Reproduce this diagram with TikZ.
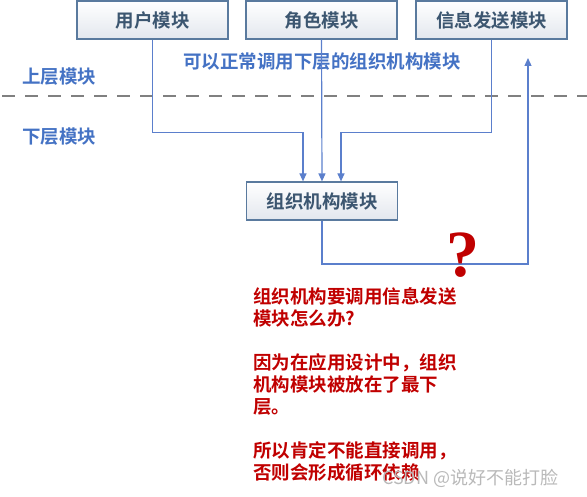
\documentclass[tikz,border=0pt]{standalone}
\usepackage{fontspec}
\setmainfont{Noto Sans CJK SC}[BoldFont={Noto Sans CJK SC Bold}]
\newfontfamily\qmark{Liberation Serif}
\usetikzlibrary{arrows.meta}
\definecolor{boxline}{HTML}{5A7A9E}
\definecolor{boxbot}{HTML}{E3E7EE}
\definecolor{boxtext}{HTML}{3C5670}
\definecolor{callblue}{HTML}{5B7FCC}
\definecolor{layerblue}{HTML}{4472C4}
\definecolor{qred}{HTML}{C00000}

\begin{document}
\begin{tikzpicture}[x=1pt, y=-1pt,
    module/.style={draw=boxline, line width=1.2pt, top color=white, bottom color=boxbot,
        minimum width=151pt, minimum height=38pt, inner sep=0pt,
        font=\fontsize{18.5}{20}\selectfont\bfseries, text=boxtext},
    call/.style={draw=callblue, line width=1.2pt, -{Triangle[length=8pt,width=7pt]}},
    layer/.style={text=layerblue, inner sep=0pt, font=\fontsize{18.5}{20}\selectfont\bfseries}]
    \useasboundingbox (0,0) rectangle (587,497);

    % Modules
    \node[module] (user) at (152.5,20) {用户模块};
    \node[module] (role) at (321.5,20) {角色模块};
    \node[module] (info) at (491.5,20) {信息发送模块};
    \node[module] (org) at (322,201) {组织机构模块};

    % Layer labels
    \node[layer, anchor=west] (upper) at (22,77) {上层模块};
    \node[layer, anchor=west] (lower) at (22,137) {下层模块};
    \node[layer, anchor=west] (note) at (183,62) {可以正常调用下层的组织机构模块};

    % Separator
    \draw[gray, line width=2.5pt, dash pattern=on 13pt off 10pt] (2,96) -- (587,96);

    % Calls down
    \draw[call] (user.south) |- ([shift={(-19pt,49pt)}]org.north) -- ([xshift=-19pt]org.north);
    \draw[call] (role.south) -- (org.north);
    \draw[call] (info.south) |- ([shift={(19pt,49pt)}]org.north) -- ([xshift=19pt]org.north);

    % Call up
    \coordinate (back) at (528,264);
    \coordinate (target) at (528,58);
    \draw[call] (org.south) |- (back) -- (target);

    \node[text=qred, font=\qmark\bfseries\fontsize{66}{66}\selectfont] (why) at (463,255) {?};

    \node[anchor=north west, inner sep=0pt, text=qred, align=left,
        font=\fontsize{18.5}{22}\selectfont\bfseries] (reason) at (253,287)
        {组织机构要调用信息发送\\模块怎么办?\\[22pt]因为在应用设计中，组织\\机构模块被放在了最下\\层。\\[22pt]所以肯定不能直接调用，\\否则会形成循环依赖};

    \node[anchor=west, inner sep=0pt, text=gray!55, font=\fontsize{18}{18}\selectfont] (mark) at (382,478) {CSDN @说好不能打脸};
\end{tikzpicture}
\end{document}
